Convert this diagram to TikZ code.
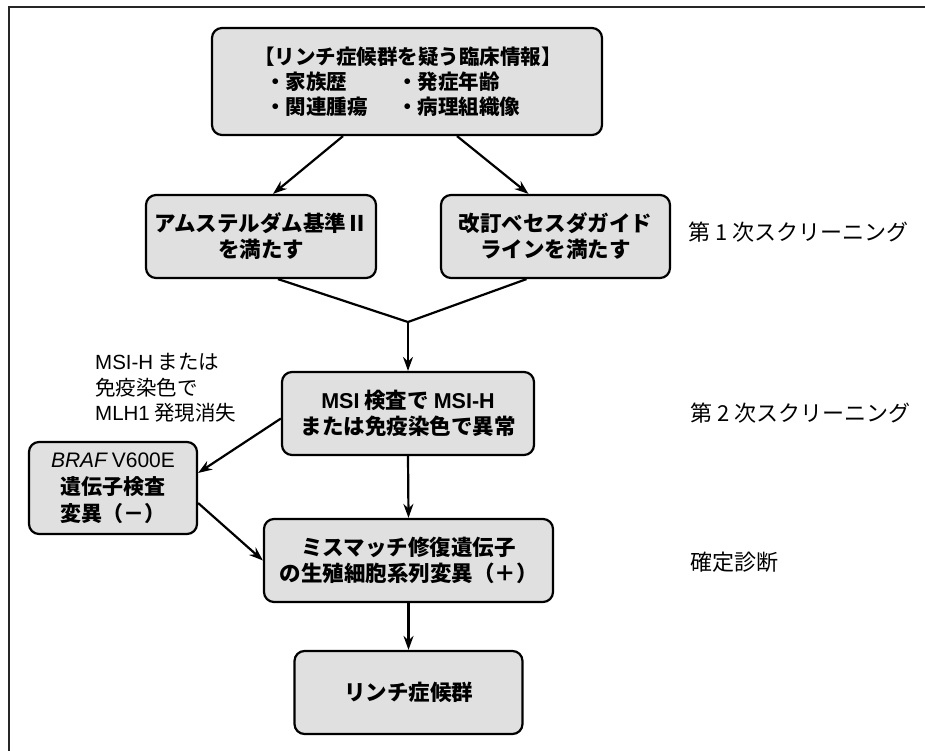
\documentclass[tikz,border=0pt]{standalone}
\usepackage{fontspec}
\setmainfont{Noto Sans CJK JP}
\newfontfamily\lat{Liberation Sans}
\usetikzlibrary{arrows.meta,calc}
\begin{document}
\begin{tikzpicture}[x=1pt,y=-1pt,
  box/.style={draw=black, line width=2.2pt, fill=black!12, rounded corners=10pt, inner sep=0pt, align=center, font=\fontsize{21.5}{26}\selectfont\bfseries},
  arr/.style={line width=2.2pt, -{Stealth[length=14pt,width=10pt]}},
  conn/.style={line width=2.2pt},
  toptxt/.style={inner sep=0pt, font=\fontsize{20.5}{24}\selectfont\bfseries},
  lbl/.style={anchor=west, inner sep=0pt, font=\fontsize{22}{26}\selectfont, align=left}]
\useasboundingbox (0,0) rectangle (925,751);
\fill[white] (0,0) rectangle (925,751);
\draw[line width=2.2pt, black!85] (9,751) -- (9,7) -- (925,7);

% top box
\node[box, minimum width=390pt, minimum height=107pt] (top) at (407,81.5) {};
\node[toptxt] (t1) at (408,57) {【リンチ症候群を疑う臨床情報】};
\node[toptxt, anchor=west] (t2a) at (265,82) {・家族歴};
\node[toptxt, anchor=west] (t2b) at (397,82) {・発症年齢};
\node[toptxt, anchor=west] (t3a) at (265,107) {・関連腫瘍};
\node[toptxt, anchor=west] (t3b) at (397,107) {・病理組織像};

% first screening boxes
\node[box, minimum width=230pt, minimum height=83pt] (ams) at (261,236.5) {アムステルダム基準Ⅱ\\を満たす};
\node[box, minimum width=229pt, minimum height=83pt] (bet) at (555.5,236.5) {改訂ベセスダガイド\\ラインを満たす};

% second screening
\node[box, minimum width=252pt, minimum height=83pt] (msi) at (408,413.5) {{\lat MSI} 検査で {\lat MSI-H}\\または免疫染色で異常};
\node[box, minimum width=168pt, minimum height=92pt, font=\fontsize{21}{27}\selectfont\bfseries] (braf) at (113,488) {{\lat\mdseries\itshape BRAF} {\lat\mdseries V600E}\\遺伝子検査\\変異（－）};

% diagnosis
\node[box, minimum width=289pt, minimum height=83pt] (mm) at (408.5,560.5) {ミスマッチ修復遺伝子\\の生殖細胞系列変異（＋）};
\node[box, minimum width=228pt, minimum height=83pt] (lynch) at (408.5,692.5) {リンチ症候群};

% labels
\node[lbl] (l1) at (688,232) {第 1 次スクリーニング};
\node[lbl] (l2) at (690,413) {第 2 次スクリーニング};
\node[lbl] (l3) at (690,562) {確定診断};
\node[lbl, font=\fontsize{20.5}{25.5}\selectfont] (lft) at (95,388) {{\lat MSI-H} または\\免疫染色で\\{\lat MLH1} 発現消失};

% connectors
\coordinate (m) at (408,322);
\draw[arr] ([xshift=-64pt]top.south) -- ([xshift=12pt]ams.north);
\draw[arr] ([xshift=50pt]top.south) -- ([xshift=-27pt]bet.north);
\draw[conn] ([xshift=17pt]ams.south) -- (m) -- ([xshift=-29pt]bet.south);
\draw[arr] (m) -- (msi.north);
\draw[arr] ([yshift=-5pt]msi.west) -- ([yshift=15pt]braf.east);
\draw[arr] ([yshift=-15pt]braf.east) -- (mm.west);
\draw[arr] (msi.south) -- (mm.north);
\draw[arr] (mm.south) -- (lynch.north);
\end{tikzpicture}
\end{document}
